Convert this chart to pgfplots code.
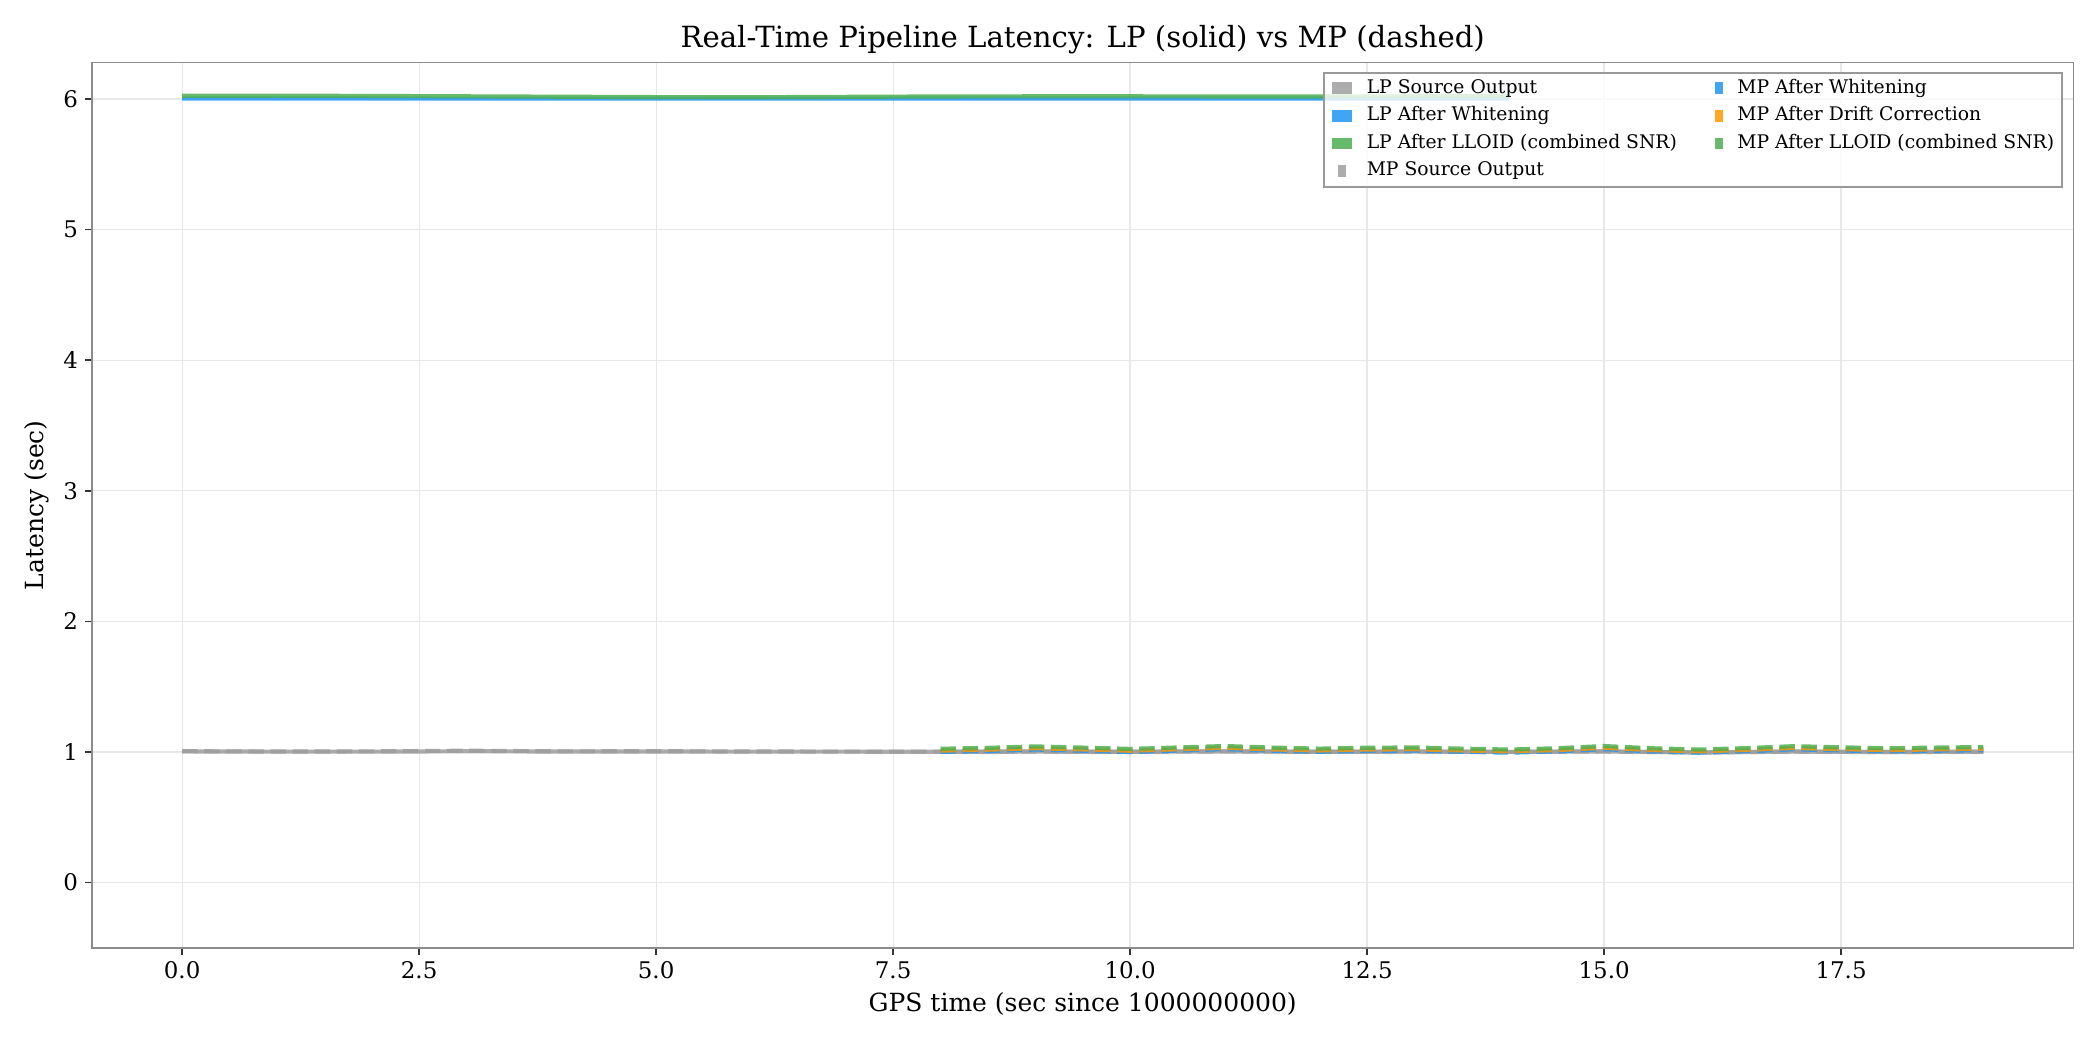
\documentclass[border=0pt]{standalone}
\usepackage{fontspec}
\setmainfont{DejaVu Serif}
\usepackage{pgfplots}
\pgfplotsset{compat=1.18}
\definecolor{cgray}{HTML}{9E9E9E}
\definecolor{cblue}{HTML}{2196F3}
\definecolor{corange}{HTML}{FF9800}
\definecolor{cgreen}{HTML}{4CAF50}
\begin{document}
\begin{tikzpicture}
\useasboundingbox (-44.2pt,-49pt) rectangle (963.8pt,455pt);
\begin{axis}[
  at={(0,0)}, anchor=south west,
  scale only axis, width=951pt, height=425pt,
  xmin=-0.95, xmax=19.95, ymin=-0.5, ymax=6.28,
  xtick={0,2.5,5,7.5,10,12.5,15,17.5},
  xticklabels={0.0,2.5,5.0,7.5,10.0,12.5,15.0,17.5},
  ytick={0,1,2,3,4,5,6},
  yticklabels={0,1,2,3,4,5,6},
  tick label style={font=\fontsize{11}{13}\selectfont},
  tick align=outside, major tick length=3.2pt,
  xtick pos=bottom, ytick pos=left,
  major tick style={black!80, line width=0.8pt},
  axis line style={draw=black!45, line width=0.8pt},
  grid=major, major grid style={black!9, line width=0.6pt},
  title={Real-Time Pipeline Latency: LP (solid) vs MP (dashed)},
  title style={at={(0.5,1.0256)}, anchor=center, yshift=-6pt, font=\fontsize{14}{16}\selectfont},
  xlabel={GPS time (sec since 1000000000)},
  xlabel style={at={(0.5,-0.0635)}, anchor=center, font=\fontsize{12}{14}\selectfont},
  ylabel={Latency (sec)},
  ylabel style={at={(-0.0278,0.5)}, anchor=center, font=\fontsize{12}{14}\selectfont},
  legend columns=2,
  legend cell align=left,
  legend style={at={(0.99474,0.98941)}, anchor=north east,
    draw=black!40, line width=0.8pt, fill=white, fill opacity=0.8,
    draw opacity=1, text opacity=1,
    font=\fontsize{9}{10}\selectfont,
    inner xsep=3.8pt, inner ysep=3pt, row sep=4.25pt,
    nodes={inner sep=0pt, text height=6.8pt, text depth=2.2pt},
    /tikz/every odd column/.append style={column sep=7pt},
    /tikz/every even column/.append style={column sep=18.2pt}},
  lp/.style={line width=2pt, opacity=0.85, line join=round},
  mp/.style={line width=2pt, opacity=0.85, dash pattern=on 7.4pt off 3.2pt},
]
% legend (row-wise order reproducing a column-wise two-column legend)
\addlegendimage{legend image code/.code={\path[draw=none,fill=cgray,fill opacity=0.85] (0pt,-2.8pt) rectangle (9.6pt,2.8pt);}}
\addlegendentry{LP Source Output}
\addlegendimage{legend image code/.code={\path[draw=none,fill=cblue,fill opacity=0.85] (2.9pt,-2.8pt) rectangle (6.7pt,2.8pt);}}
\addlegendentry{MP After Whitening}
\addlegendimage{legend image code/.code={\path[draw=none,fill=cblue,fill opacity=0.85] (0pt,-2.8pt) rectangle (9.6pt,2.8pt);}}
\addlegendentry{LP After Whitening}
\addlegendimage{legend image code/.code={\path[draw=none,fill=corange,fill opacity=0.85] (2.9pt,-2.8pt) rectangle (6.7pt,2.8pt);}}
\addlegendentry{MP After Drift Correction}
\addlegendimage{legend image code/.code={\path[draw=none,fill=cgreen,fill opacity=0.85] (0pt,-2.8pt) rectangle (9.6pt,2.8pt);}}
\addlegendentry{LP After LLOID (combined SNR)}
\addlegendimage{legend image code/.code={\path[draw=none,fill=cgreen,fill opacity=0.85] (2.9pt,-2.8pt) rectangle (6.7pt,2.8pt);}}
\addlegendentry{MP After LLOID (combined SNR)}
\addlegendimage{legend image code/.code={\path[draw=none,fill=cgray,fill opacity=0.85] (2.9pt,-2.8pt) rectangle (6.7pt,2.8pt);}}
\addlegendentry{MP Source Output}
% LP Source Output
\addplot[lp, cgray, forget plot] coordinates {
(0,1.005) (1,1.003) (2,1.003) (3,1.006) (4,1.004) (5,1.004) (6,1.003) (7,1.003)
(8,1.002) (9,1.003) (10,1.002) (11,1.004) (12,1.002) (13,1.003) (14,1.001)
(15,1.004) (16,0.997) (17,1.003) (18,1.000) (19,1.002)};
% LP After Whitening
\addplot[lp, cblue, forget plot] coordinates {
(0,6.004) (1,6.004) (2,6.004) (3,6.003) (4,6.003) (5,6.003) (6,6.003) (7,6.003)
(8,6.004) (9,6.004) (10,6.004) (11,6.004) (12,6.004) (13,6.004) (14,6.004)};
% LP After LLOID
\addplot[lp, cgreen, forget plot] coordinates {
(0,6.025) (1,6.026) (2,6.024) (3,6.021) (4,6.018) (5,6.015) (6,6.014) (7,6.017)
(8,6.020) (9,6.021) (10,6.021) (11,6.020) (12,6.020) (13,6.021) (14,6.021)};
% MP Source Output
\addplot[mp, cgray, forget plot] coordinates {
(0,1.006) (1,1.004) (2,1.005) (3,1.010) (4,1.005) (5,1.006) (6,1.004) (7,1.003)
(8,1.003) (9,1.004) (10,1.002) (11,1.005) (12,1.002) (13,1.004) (14,1.001)
(15,1.005) (16,0.996) (17,1.004) (18,1.000) (19,1.003)};
% MP After Whitening
\addplot[mp, cblue, forget plot] coordinates {
(8.0,1.001) (8.5,1.008) (9.0,1.019) (9.5,1.010) (10.0,1.000) (10.5,1.011)
(11.0,1.022) (11.5,1.010) (12.0,1.002) (12.5,1.009) (13.0,1.011) (13.5,1.002)
(14.0,0.995) (14.5,1.005) (15.0,1.022) (15.5,1.005) (16.0,0.995) (16.5,1.006)
(17.0,1.021) (17.5,1.012) (18.0,1.005) (18.5,1.010) (19.0,1.014)};
% MP After Drift Correction
\addplot[mp, corange, forget plot] coordinates {
(8.0,1.011) (8.5,1.018) (9.0,1.029) (9.5,1.020) (10.0,1.010) (10.5,1.021)
(11.0,1.032) (11.5,1.020) (12.0,1.012) (12.5,1.019) (13.0,1.021) (13.5,1.012)
(14.0,1.005) (14.5,1.015) (15.0,1.032) (15.5,1.015) (16.0,1.005) (16.5,1.016)
(17.0,1.031) (17.5,1.022) (18.0,1.015) (18.5,1.020) (19.0,1.024)};
% MP After LLOID
\addplot[mp, cgreen, forget plot] coordinates {
(8.0,1.025) (8.5,1.032) (9.0,1.043) (9.5,1.034) (10.0,1.024) (10.5,1.035)
(11.0,1.046) (11.5,1.034) (12.0,1.026) (12.5,1.033) (13.0,1.035) (13.5,1.026)
(14.0,1.019) (14.5,1.029) (15.0,1.046) (15.5,1.029) (16.0,1.019) (16.5,1.030)
(17.0,1.045) (17.5,1.036) (18.0,1.029) (18.5,1.034) (19.0,1.038)};
\end{axis}
\end{tikzpicture}
\end{document}
